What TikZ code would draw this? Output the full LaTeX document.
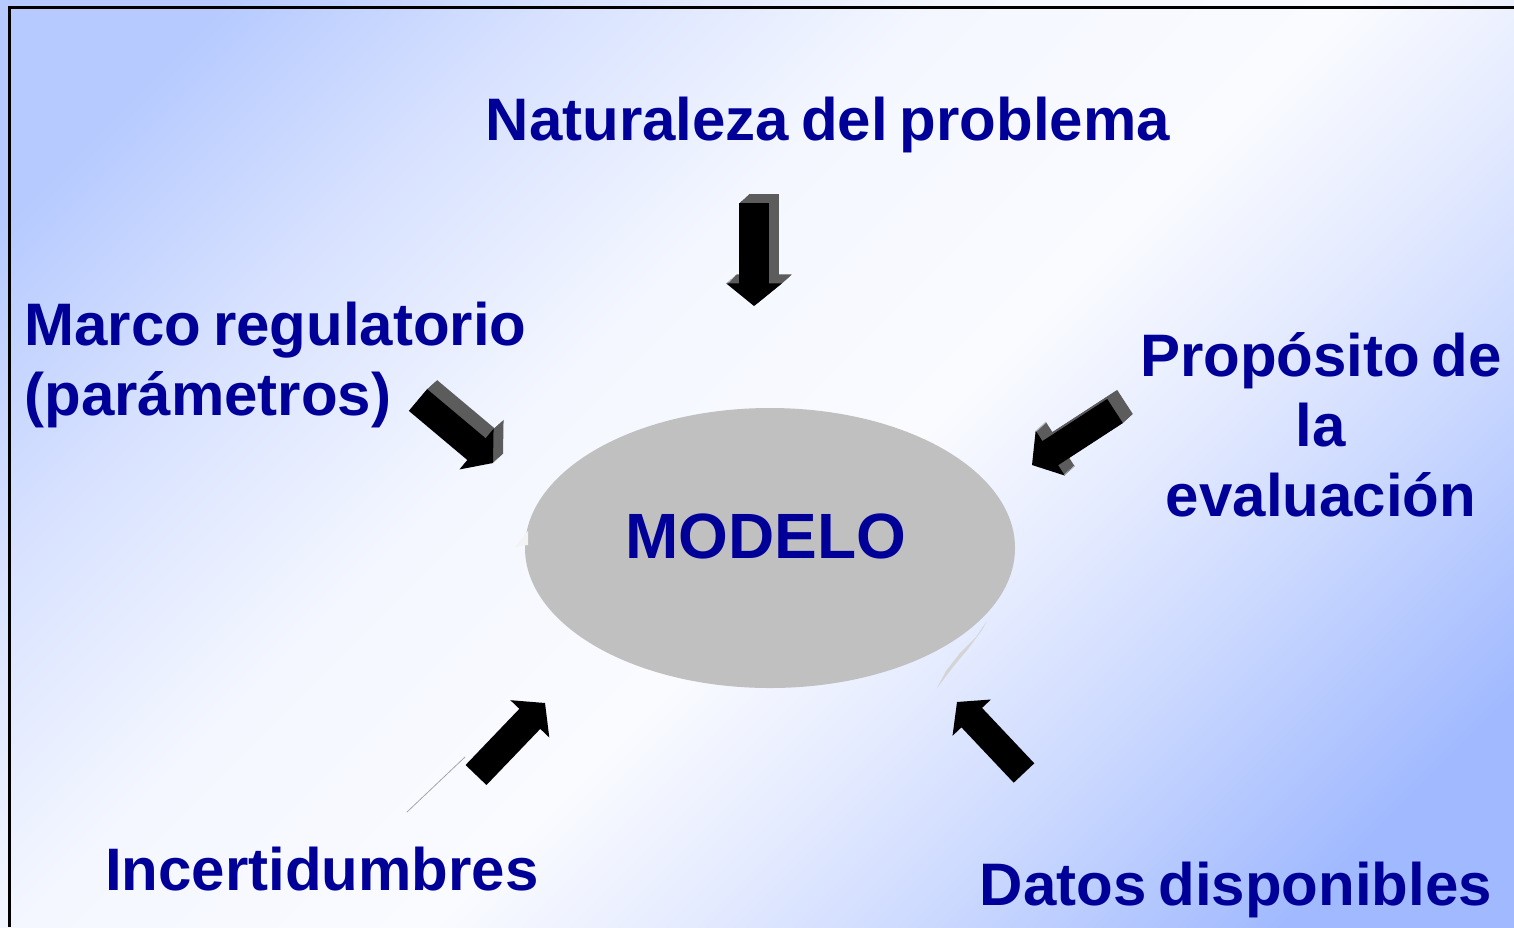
\documentclass[tikz,border=0pt]{standalone}
\usepackage{fontspec}
\setmainfont{Liberation Sans}
\usetikzlibrary{calc,shapes.geometric}
\definecolor{navy}{RGB}{0,0,153}
\definecolor{bgA}{RGB}{182,202,255}
\definecolor{bgE}{RGB}{216,226,255}
\definecolor{bgW}{RGB}{250,251,255}
\definecolor{bgW2}{RGB}{244,247,255}
\definecolor{bgD}{RGB}{230,236,255}
\definecolor{bgC}{RGB}{205,218,255}
\definecolor{bgB}{RGB}{160,185,255}
\definecolor{ellgray}{RGB}{192,192,192}
\definecolor{sidegray}{RGB}{92,92,92}
\definecolor{sliver}{RGB}{212,212,212}
\pgfdeclareverticalshading{bgshade}{100bp}{color(0bp)=(bgB); color(21bp)=(bgB); color(32bp)=(bgC); color(39bp)=(bgD); color(46bp)=(bgW); color(58bp)=(bgW2); color(69bp)=(bgE); color(79bp)=(bgA); color(100bp)=(bgA)}
\newcommand\tightspace{\spaceskip=0.2em\relax}
\tikzset{
  lbl/.style={text=navy, font=\fontsize{30}{35}\selectfont\bfseries, execute at begin node=\tightspace, inner sep=0pt},
  frontface/.style={fill=black},
  sideface/.style={fill=sidegray},
}
% block arrow from tail centre #1 to tip #2, style #3
\newcommand\myarrow[3]{%
  \coordinate (tmpb) at ($(#1)!0.78!(#2)$);
  \fill[#3] ($(#1)!0.145!90:(#2)$) -- ($(tmpb)!0.66!90:(#2)$) -- ($(tmpb)!1.23!90:(#2)$)
    -- (#2) -- ($(tmpb)!1.23!-90:(#2)$) -- ($(tmpb)!0.66!-90:(#2)$)
    -- ($(#1)!0.145!-90:(#2)$) -- cycle;
}
% extruded (3D) block arrow
\newcommand\myarrowthreed[2]{%
  \foreach \k in {10,...,1}{
    \coordinate (ett) at ($(#1)+(\k,-0.9*\k)$);
    \coordinate (etp) at ($(#2)+(\k,-0.9*\k)$);
    \myarrow{ett}{etp}{sideface}
  }
  \myarrow{#1}{#2}{frontface}
}
\begin{document}
\begin{tikzpicture}[x=0.5pt,y=-0.5pt]
\useasboundingbox (0,0) rectangle (1514,927);
% background
\shade[shading=bgshade, shading angle=45] (0,0) rectangle (1514,927);
% frame
\draw[line width=1.5pt] (9,927) -- (9,7) -- (1514,7);

% central ellipse
\node[ellipse, fill=ellgray, minimum width=245pt, minimum height=140pt, inner sep=0pt] (modelo) at (770,548) {};
\fill[sliver] (987,621) -- (976,637) -- (960,653) -- (946,671) -- (937,688) -- (953,667) -- (968,649) -- (982,630) -- cycle;
\fill[white!80!ellgray] (515,547) -- (528,531) -- (528,545) -- cycle;
\node[lbl, font=\fontsize{32}{38}\selectfont\bfseries, anchor=base] (modelolbl) at (766,558) {MODELO};

% labels (base anchor of multi-line nodes = last line)
\node[lbl, anchor=base] (naturaleza) at (828,140) {Naturaleza del problema};
\node[lbl, anchor=base west, align=left] (marco) at (24,415) {Marco regulatorio\\(parámetros)};
\node[lbl, anchor=base, align=center] (proposito) at (1321,516) {Propósito de\\la\\evaluación};
\node[lbl, anchor=base] (incert) at (322,890) {Incertidumbres};
\node[lbl, anchor=base] (datos) at (1236,905) {Datos disponibles};

% arrow anchor points
\coordinate (a1t) at (754,203); \coordinate (a1p) at (754,306);
\coordinate (a2t) at (418,400); \coordinate (a2p) at (493,463);
\coordinate (a3t) at (1115,411); \coordinate (a3p) at (1032,465);
\coordinate (a4t) at (476,775); \coordinate (a4p) at (545,703);
\coordinate (a5t) at (1024,773); \coordinate (a5p) at (957,702);
\coordinate (ln1) at (407,812); \coordinate (ln2) at (465,757);

\myarrowthreed{a1t}{a1p}
\myarrowthreed{a2t}{a2p}
\myarrowthreed{a3t}{a3p}
\myarrow{a4t}{a4p}{frontface}
\myarrow{a5t}{a5p}{frontface}
\draw[gray!70, line width=0.4pt] (ln1) -- (ln2);
\end{tikzpicture}
\end{document}
